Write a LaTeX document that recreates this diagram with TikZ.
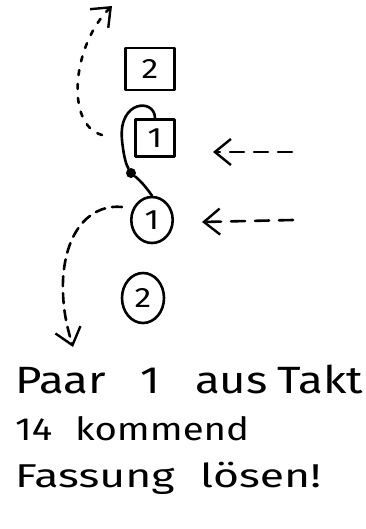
\documentclass[tikz,border=0pt]{standalone}
\usepackage{fontspec}
\setmainfont{Fira Sans}
\newfontfamily\hand{Fira Sans}[FakeStretch=1.2]
\newfontfamily\handwide{Fira Sans}[FakeStretch=1.35]
\usetikzlibrary{arrows.meta}
\begin{document}
\begin{tikzpicture}[x=1pt,y=-1pt,line cap=round,line join=round,
  ink/.style={line width=2.6pt},
  sqbox/.style={draw,ink,rectangle,inner sep=0pt,font=\hand\fontsize{28}{28}\selectfont},
  digit/.style={inner sep=0pt,font=\hand\fontsize{28}{28}\selectfont},
  barb/.style={-{Straight Barb[length=16pt,width=26pt,line width=2.4pt]}},
  txt/.style={anchor=base west,inner sep=0pt},
]
\useasboundingbox (0,0) rectangle (366,529);
% pieces
\node[sqbox,minimum width=49pt,minimum height=42pt] (s2) at (150,69) {2};
\node[sqbox,minimum width=39pt,minimum height=37pt] (s1) at (155,138) {1};
\node[draw,ink,circle,inner sep=0pt,minimum size=46pt,xscale=0.9] (c1) at (152,220) {};
\node[digit] (c1t) at (152,220) {1};
\node[draw,ink,circle,inner sep=0pt,minimum size=50pt,xscale=0.84] (c2) at (143,298) {};
\node[digit] (c2t) at (143,298) {2};
\node[circle,fill,inner sep=0pt,minimum size=10pt] (dot) at (131,173) {};
% hand hold
\draw[ink] (s1.north) .. controls (155,98) and (118,100) .. (122,140) .. controls (124,160) and (127,166) .. (dot);
\draw[ink] (dot) .. controls (142,182) and (148,190) .. (c1.north);
% right arrows
\coordinate (r1s) at (292,152);
\coordinate (r1e) at (213,152);
\coordinate (r2s) at (293,220);
\coordinate (r2e) at (202,222);
\draw[ink,barb,dash pattern=on 14pt off 10pt] (r1s) -- (r1e);
\draw[ink,barb,dash pattern=on 14pt off 10pt] (r2s) -- (r2e);
% curved paths
\coordinate (t1) at (102,135);
\coordinate (t2) at (112,6);
\draw[ink,barb,dash pattern=on 5pt off 9pt] (t1) .. controls (65,125) and (72,45) .. (t2);
\coordinate (b1) at (122,207);
\coordinate (b2) at (73,347);
\draw[ink,barb,dash pattern=on 10pt off 7pt] (b1) .. controls (95,204) and (66,225) .. (63,280) .. controls (62,310) and (68,330) .. (b2);
% text
\node[txt,font=\hand\fontsize{38}{38}\selectfont] (l1) at (15,393)
  {\makebox[125pt][l]{Paar}\makebox[55pt][l]{1}\makebox[82pt][l]{aus}Takt};
\node[txt,font=\hand\fontsize{32}{32}\selectfont] (l2) at (15,440)
  {\makebox[60pt][l]{14}kommend};
\node[txt,font=\handwide\fontsize{33}{33}\selectfont] (l3) at (15,487)
  {\makebox[185pt][l]{Fassung}lösen!};
\end{tikzpicture}
\end{document}
